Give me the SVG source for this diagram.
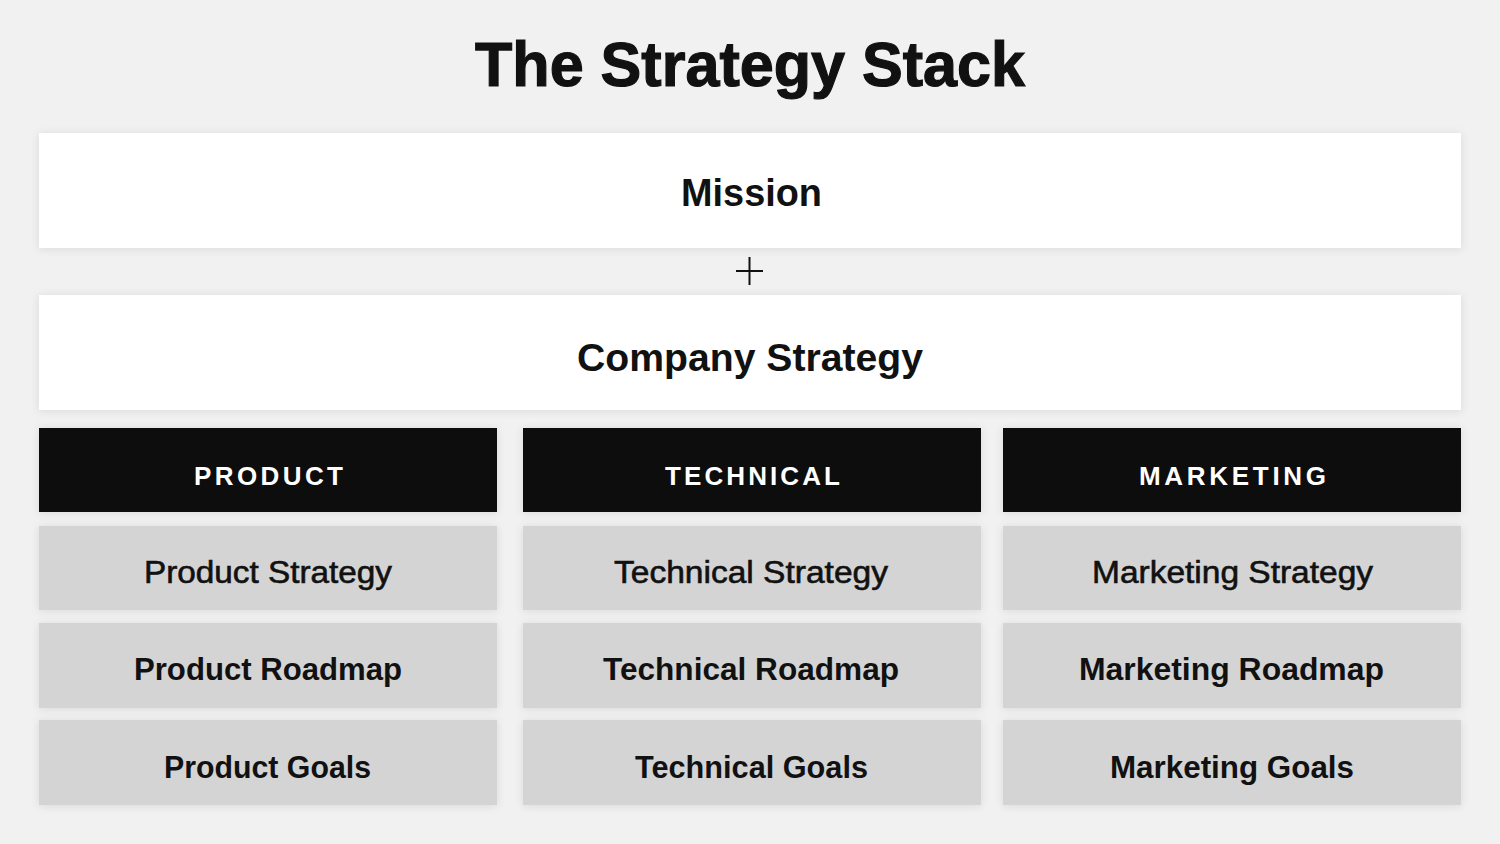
<svg xmlns="http://www.w3.org/2000/svg" width="1500" height="844" viewBox="0 0 1500 844">
  <defs>
    <filter id="sh" x="-5%" y="-30%" width="110%" height="160%">
      <feDropShadow dx="0" dy="1" stdDeviation="4" flood-color="#000" flood-opacity="0.10"/>
    </filter>
    <style>
      .bg { fill: #f1f1f1; }
      .white { fill: #ffffff; filter: url(#sh); }
      .head { fill: #111111; filter: url(#sh); }
      .cell { fill: #d4d4d4; filter: url(#sh); }
      text { font-family: "Liberation Sans", Arial, sans-serif; text-anchor: middle; fill: #111111; }
      .title { font-size: 63px; font-weight: bold; stroke: #111111; stroke-width: 1.2px; }
      .big { font-size: 39px; font-weight: bold; }
      .hd { font-size: 26px; font-weight: bold; fill: #ffffff; }
      .med { font-size: 31px; font-weight: normal; stroke: #111111; stroke-width: 0.6px; }
      .bold { font-size: 31px; font-weight: bold; }
      .plus { stroke: #111111; stroke-width: 2; fill: none; }
    </style>
  </defs>

  <rect class="bg" x="0" y="0" width="1500" height="844"/>

  <g id="title">
    <text class="title" x="750" y="86" textLength="550" lengthAdjust="spacingAndGlyphs">The Strategy Stack</text>
  </g>

  <g id="mission">
    <rect class="white" x="39" y="133" width="1422" height="115"/>
    <text class="big" x="751.5" y="206" textLength="141" lengthAdjust="spacingAndGlyphs">Mission</text>
  </g>

  <g id="connectors">
    <g id="plus">
      <line class="plus" x1="736" y1="271" x2="763" y2="271"/>
      <line class="plus" x1="749.5" y1="257" x2="749.5" y2="285"/>
    </g>
  </g>

  <g id="company-strategy">
    <rect class="white" x="39" y="295" width="1422" height="115"/>
    <text class="big" x="750" y="371" textLength="346" lengthAdjust="spacingAndGlyphs">Company Strategy</text>
  </g>

  <!-- Product column -->
  <g id="product-header">
    <rect class="head" x="39" y="428" width="458" height="84"/>
    <text class="hd" x="268.5" y="485" textLength="149" lengthAdjust="spacing">PRODUCT</text>
  </g>
  <g id="product-strategy">
    <rect class="cell" x="39" y="526" width="458" height="84"/>
    <text class="med" x="268" y="583" textLength="248" lengthAdjust="spacingAndGlyphs">Product Strategy</text>
  </g>
  <g id="product-roadmap">
    <rect class="cell" x="39" y="623" width="458" height="85"/>
    <text class="bold" x="268" y="680" textLength="268" lengthAdjust="spacingAndGlyphs">Product Roadmap</text>
  </g>
  <g id="product-goals">
    <rect class="cell" x="39" y="720" width="458" height="85"/>
    <text class="bold" x="267.5" y="778" textLength="207" lengthAdjust="spacingAndGlyphs">Product Goals</text>
  </g>

  <!-- Technical column -->
  <g id="technical-header">
    <rect class="head" x="523" y="428" width="458" height="84"/>
    <text class="hd" x="752.5" y="485" textLength="175" lengthAdjust="spacing">TECHNICAL</text>
  </g>
  <g id="technical-strategy">
    <rect class="cell" x="523" y="526" width="458" height="84"/>
    <text class="med" x="751" y="583" textLength="274" lengthAdjust="spacingAndGlyphs">Technical Strategy</text>
  </g>
  <g id="technical-roadmap">
    <rect class="cell" x="523" y="623" width="458" height="85"/>
    <text class="bold" x="751" y="680" textLength="296" lengthAdjust="spacingAndGlyphs">Technical Roadmap</text>
  </g>
  <g id="technical-goals">
    <rect class="cell" x="523" y="720" width="458" height="85"/>
    <text class="bold" x="751.5" y="778" textLength="233" lengthAdjust="spacingAndGlyphs">Technical Goals</text>
  </g>

  <!-- Marketing column -->
  <g id="marketing-header">
    <rect class="head" x="1003" y="428" width="458" height="84"/>
    <text class="hd" x="1232.5" y="485" textLength="187" lengthAdjust="spacing">MARKETING</text>
  </g>
  <g id="marketing-strategy">
    <rect class="cell" x="1003" y="526" width="458" height="84"/>
    <text class="med" x="1232.5" y="583" textLength="281" lengthAdjust="spacingAndGlyphs">Marketing Strategy</text>
  </g>
  <g id="marketing-roadmap">
    <rect class="cell" x="1003" y="623" width="458" height="85"/>
    <text class="bold" x="1231.5" y="680" textLength="305" lengthAdjust="spacingAndGlyphs">Marketing Roadmap</text>
  </g>
  <g id="marketing-goals">
    <rect class="cell" x="1003" y="720" width="458" height="85"/>
    <text class="bold" x="1232" y="778" textLength="244" lengthAdjust="spacingAndGlyphs">Marketing Goals</text>
  </g>
</svg>
